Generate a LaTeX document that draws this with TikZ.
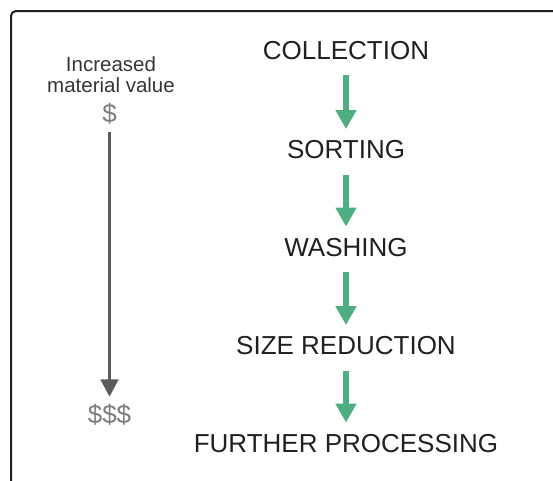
\documentclass[tikz,border=0pt]{standalone}
\usepackage{fontspec}
\setmainfont{Liberation Sans}
\usepackage{xcolor}
\usepackage{tikz}
\usetikzlibrary{arrows.meta}

\definecolor{stepgreen}{RGB}{77,175,128}
\definecolor{valuegray}{RGB}{92,92,92}
\definecolor{inkdark}{RGB}{32,32,32}

\begin{document}
\begin{tikzpicture}[x=1pt,y=-1pt,
    stepname/.style={inner sep=0pt, text height=18.5pt, text depth=0pt,
        text=inkdark, font=\fontsize{26}{30}\selectfont},
    flowarrow/.style={stepgreen, line width=6.7pt,
        -{Triangle[width=20pt,length=19pt]}, shorten <=16pt, shorten >=11pt},
    moneylabel/.style={inner sep=0pt, text height=17pt, text depth=2pt,
        text=valuegray!80, font=\fontsize{26}{30}\selectfont},
    valuearrow/.style={valuegray, line width=3.5pt,
        -{Triangle[width=17.5pt,length=17.5pt]}, shorten <=8pt, shorten >=9pt}]
    \clip (0,0) rectangle (553,480);

    % frame
    \draw[inkdark, line width=2pt, rounded corners=5pt] (11,11) rectangle (600,520);

    % value scale
    \node[inner sep=0pt, text=inkdark!90, font=\fontsize{20.5}{21}\selectfont, align=center]
        (valuetitle) at (111,75) {Increased\\material value};
    \node[moneylabel] (lowvalue) at (109.5,114.5) {\$};
    \node[moneylabel] (highvalue) at (109.5,415.5) {\$\$\$};
    \draw[valuearrow] (lowvalue) -- (highvalue);

    % process steps
    \node[stepname] (collection) at (346,50) {COLLECTION};
    \node[stepname] (sorting) at (346,149.5) {SORTING};
    \node[stepname] (washing) at (346,247) {WASHING};
    \node[stepname] (sizereduction) at (346,345.5) {SIZE REDUCTION};
    \node[stepname] (further) at (346,443) {FURTHER PROCESSING};

    % arrows
    \draw[flowarrow] (collection) -- (sorting);
    \draw[flowarrow] (sorting) -- (washing);
    \draw[flowarrow] (washing) -- (sizereduction);
    \draw[flowarrow] (sizereduction) -- (further);
\end{tikzpicture}
\end{document}
